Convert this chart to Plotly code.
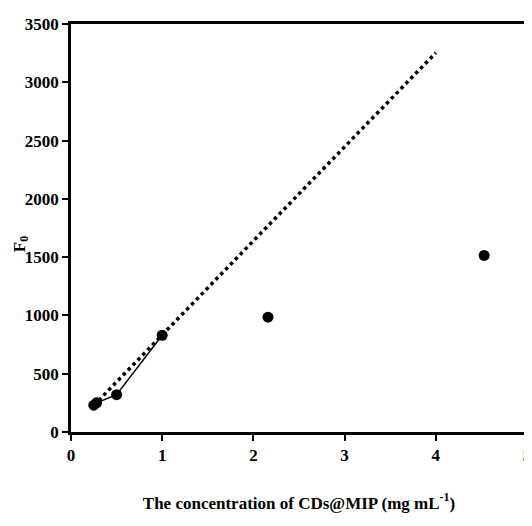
import plotly.graph_objects as go

# Data
conc = [0.25, 0.28, 0.5, 1.0, 2.16, 4.53]
f0 = [230, 250, 320, 830, 985, 1515]
linear_x = [0.25, 0.28, 0.5, 1.0]
linear_y = [230, 250, 320, 830]
trend_x = [0.25, 4.0]
trend_y = [228, 3253]

x_ticks = [0, 1, 2, 3, 4, 5]
y_ticks = [0, 500, 1000, 1500, 2000, 2500, 3000, 3500]

font_family = "Liberation Serif"

fig = go.Figure()
fig.add_trace(go.Scatter(x=trend_x, y=trend_y, mode="lines",
                         line=dict(color="black", width=3.5, dash="dot"),
                         showlegend=False, hoverinfo="skip"))
fig.add_trace(go.Scatter(x=linear_x, y=linear_y, mode="lines",
                         line=dict(color="black", width=1.5),
                         showlegend=False))
fig.add_trace(go.Scatter(x=conc, y=f0, mode="markers",
                         marker=dict(color="black", size=11),
                         showlegend=False))

fig.update_layout(
    width=524, height=518,
    margin=dict(l=63, r=5, t=16, b=94),
    plot_bgcolor="white", paper_bgcolor="white",
    font=dict(family=font_family, color="black", size=16),
    annotations=[dict(
        text="<b>F<sub>0</sub></b>", textangle=-90,
        xref="paper", yref="paper", x=-0.11, y=0.46,
        xanchor="center", yanchor="middle", showarrow=False,
        font=dict(size=17, family=font_family, color="black"),
    )],
)
fig.update_xaxes(
    range=[0, 5], tickvals=x_ticks, ticktext=[f"<b>{v}</b>" for v in x_ticks],
    showgrid=False, zeroline=False, automargin=False,
    showline=True, linecolor="black", linewidth=2.5, mirror=True,
    ticks="outside", ticklen=6, tickwidth=2, tickcolor="black",
    tickfont=dict(size=17, family=font_family),
    title=dict(text="<b>The concentration of CDs@MIP (mg mL<sup>-1</sup>)</b>",
               font=dict(size=17, family=font_family), standoff=33),
)
fig.update_yaxes(
    range=[0, 3500], tickvals=y_ticks, ticktext=[f"<b>{v}</b>" for v in y_ticks],
    showgrid=False, zeroline=False, automargin=False,
    showline=True, linecolor="black", linewidth=2.5, mirror=True,
    ticks="outside", ticklen=6, tickwidth=2, tickcolor="black",
    tickfont=dict(size=17, family=font_family),
)

fig.write_html("out.html")
